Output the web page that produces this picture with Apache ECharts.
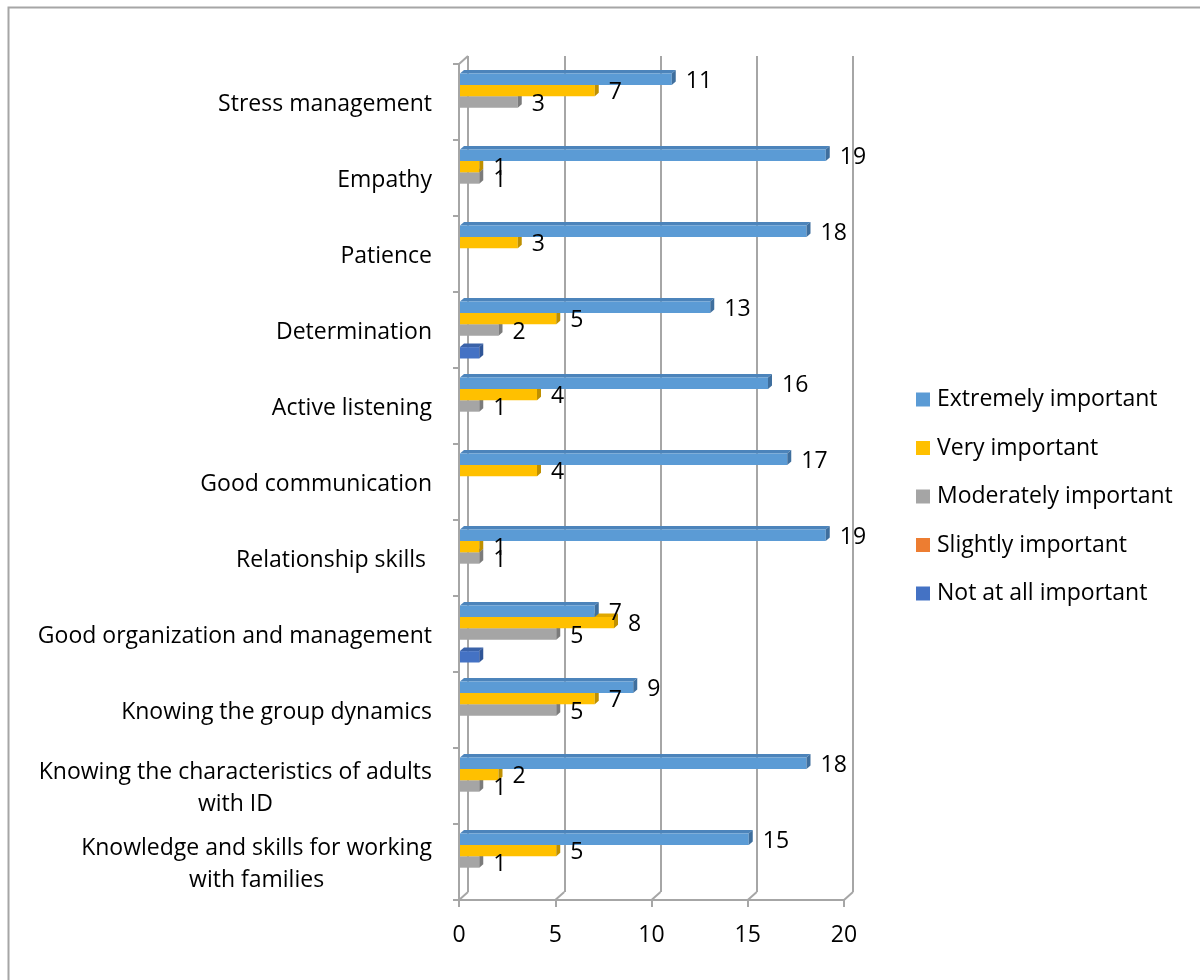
<!DOCTYPE html>
<html>
<head>
<meta charset="utf-8">
<script src="https://cdn.jsdelivr.net/npm/echarts@6/dist/echarts.min.js"></script>
<style>
  html, body { margin: 0; padding: 0; background: #ffffff; }
  #chart { width: 1200px; height: 980px; }
</style>
</head>
<body>
<div id="chart"></div>
<script>
// Skills, listed top to bottom
const categories = [
  'Stress management',
  'Empathy',
  'Patience',
  'Determination',
  'Active listening',
  'Good communication',
  'Relationship skills ',
  'Good organization and management',
  'Knowing the group dynamics',
  'Knowing the characteristics of adults\nwith ID',
  'Knowledge and skills for working\nwith families'
];

// Number of answers per importance level
const extremelyImportant  = [11, 19, 18, 13, 16, 17, 19, 7, 9, 18, 15];
const veryImportant       = [7, 1, 3, 5, 4, 4, 1, 8, 7, 2, 5];
const moderatelyImportant = [3, 1, null, 2, 1, null, 1, 5, 5, 1, 1];
const slightlyImportant   = [null, null, null, null, null, null, null, null, null, null, null];
const notAtAllImportant   = [null, null, null, 1, null, null, null, 1, null, null, null];

// Value axis ticks
const xTicks = [0, 5, 10, 15, 20];

const FONT = 'Open Sans';
const FONT_SIZE = 23;
const LINE = '#a6a6a6';

// Front plane and back wall of the pseudo-3D box
const FRONT = { left: 459, top: 64, width: 385, height: 836 };
const DEPTH_X = 9, DEPTH_Y = 8;
const BACK = { left: FRONT.left + DEPTH_X, top: FRONT.top - DEPTH_Y, width: FRONT.width, height: FRONT.height };

const levels = [
  { name: 'Extremely important',  values: extremelyImportant,  front: '#5b9bd5', top: '#4c84bb', side: '#3f6f9e', label: true },
  { name: 'Very important',       values: veryImportant,       front: '#ffc000', top: '#e0a800', side: '#bf9000', label: true },
  { name: 'Moderately important', values: moderatelyImportant, front: '#a5a5a5', top: '#8f8f8f', side: '#7b7b7b', label: true },
  { name: 'Slightly important',   values: slightlyImportant,   front: '#ed7d31', top: '#cf6a26', side: '#b25a1f', label: true },
  { name: 'Not at all important', values: notAtAllImportant,   front: '#4472c4', top: '#3a62a8', side: '#2f5597', label: false }
];

// One cuboid bar per value: top face, front face, right face, then the value label
function barSeries(level, slot) {
  const data = [];
  level.values.forEach((v, i) => { if (v != null) data.push([v, i]); });
  return {
    type: 'custom',
    name: level.name,
    xAxisIndex: 0,
    yAxisIndex: 0,
    itemStyle: { color: level.front },
    encode: { x: 0, y: 1 },
    data: data,
    renderItem: function (params, api) {
      const v = api.value(0);
      const idx = api.value(1);
      const c0 = api.coord([0, idx]);
      const c1 = api.coord([v, idx]);
      const bw = api.size([0, 1])[1];
      const h = bw * 0.15;
      const y = c0[1] - bw / 2 + bw * 0.125 + slot * h;
      const x0 = c0[0] + 1, x1 = c1[0] + 1;
      const dx = 4, dy = 3.5;
      const children = [
        { type: 'polygon', shape: { points: [[x0, y], [x0 + dx, y - dy], [x1 + dx, y - dy], [x1, y]] }, style: { fill: level.top } },
        { type: 'rect', shape: { x: x0, y: y, width: x1 - x0, height: h }, style: { fill: level.front } },
        { type: 'polygon', shape: { points: [[x1, y], [x1 + dx, y - dy], [x1 + dx, y + h - dy], [x1, y + h]] }, style: { fill: level.side } }
      ];
      if (level.label) {
        children.push({
          type: 'text',
          z2: 100,
          style: {
            text: String(v),
            x: x1 + 14,
            y: y + h / 2 + 2,
            fill: '#000000',
            fontSize: FONT_SIZE,
            fontFamily: FONT,
            align: 'left',
            verticalAlign: 'middle'
          }
        });
      }
      return { type: 'group', children: children };
    }
  };
}

// Edges joining the front plane to the back wall along the floor and at the top-left corner
const floorEdges = {
  type: 'custom',
  name: 'edges',
  xAxisIndex: 0,
  yAxisIndex: 0,
  silent: true,
  encode: { x: 0, y: 1 },
  data: xTicks.map(t => [t, 0]),
  renderItem: function (params, api) {
    const cs = params.coordSys;
    const p = api.coord([api.value(0), 0]);
    const bottom = cs.y + cs.height;
    const children = [
      { type: 'line', shape: { x1: p[0], y1: bottom, x2: p[0] + DEPTH_X, y2: bottom - DEPTH_Y }, style: { stroke: LINE, lineWidth: 2 } }
    ];
    if (params.dataIndex === 0) {
      children.push({ type: 'line', shape: { x1: cs.x, y1: cs.y, x2: cs.x + DEPTH_X, y2: cs.y - DEPTH_Y }, style: { stroke: LINE, lineWidth: 2 } });
    }
    return { type: 'group', children: children };
  }
};

const series = [floorEdges];
// Lower bars first so each bar's front face covers the top face of the bar below it
for (let s = levels.length - 1; s >= 0; s--) series.push(barSeries(levels[s], s));

const chart = echarts.init(document.getElementById('chart'), null, { renderer: 'canvas' });
chart.setOption({
  animation: false,
  backgroundColor: '#ffffff',
  textStyle: { fontFamily: FONT },
  graphic: [
    { type: 'rect', left: 6, top: 5, silent: true, shape: { width: 1220, height: 1000 }, style: { fill: 'none', stroke: LINE, lineWidth: 2 } }
  ],
  grid: [
    { left: FRONT.left, top: FRONT.top, width: FRONT.width, height: FRONT.height, containLabel: false },
    { left: BACK.left, top: BACK.top, width: BACK.width, height: BACK.height, containLabel: false }
  ],
  legend: {
    orient: 'vertical',
    left: 916,
    top: 388,
    padding: 0,
    itemWidth: 14,
    itemHeight: 14,
    itemGap: 25.5,
    icon: 'rect',
    data: levels.map(l => l.name),
    textStyle: { fontSize: FONT_SIZE, fontFamily: FONT, color: '#000000', lineHeight: 22, padding: [0, 0, 0, 2] }
  },
  xAxis: [
    {
      gridIndex: 0, type: 'value', min: xTicks[0], max: xTicks[xTicks.length - 1], interval: 5,
      axisLine: { show: true, lineStyle: { color: LINE, width: 2 } },
      axisTick: { show: true, length: 7, lineStyle: { color: LINE, width: 2 } },
      axisLabel: { fontSize: FONT_SIZE, fontFamily: FONT, color: '#000000', margin: 24 },
      splitLine: { show: false }
    },
    {
      gridIndex: 1, type: 'value', min: xTicks[0], max: xTicks[xTicks.length - 1], interval: 5,
      axisLine: { show: false }, axisTick: { show: false }, axisLabel: { show: false },
      splitLine: { show: true, lineStyle: { color: LINE, width: 2 } }
    }
  ],
  yAxis: [
    {
      gridIndex: 0, type: 'category', inverse: true, data: categories,
      axisLine: { show: true, lineStyle: { color: LINE, width: 2 } },
      axisTick: { show: true, length: 6, lineStyle: { color: LINE, width: 2 } },
      axisLabel: {
        margin: 27,
        color: '#000000',
        fontSize: FONT_SIZE,
        fontFamily: FONT,
        padding: [5, 0, 0, 0],
        formatter: function (val) {
          return val.split('\n').map(l => '{c|' + l + '}').join('\n');
        },
        rich: { c: { align: 'center', fontSize: FONT_SIZE, fontFamily: FONT, color: '#000000', lineHeight: 32 } }
      },
      splitLine: { show: false }
    },
    {
      gridIndex: 1, type: 'category', inverse: true, data: categories,
      axisLine: { show: false }, axisTick: { show: false }, axisLabel: { show: false }, splitLine: { show: false }
    }
  ],
  series: series
});
</script>
</body>
</html>
